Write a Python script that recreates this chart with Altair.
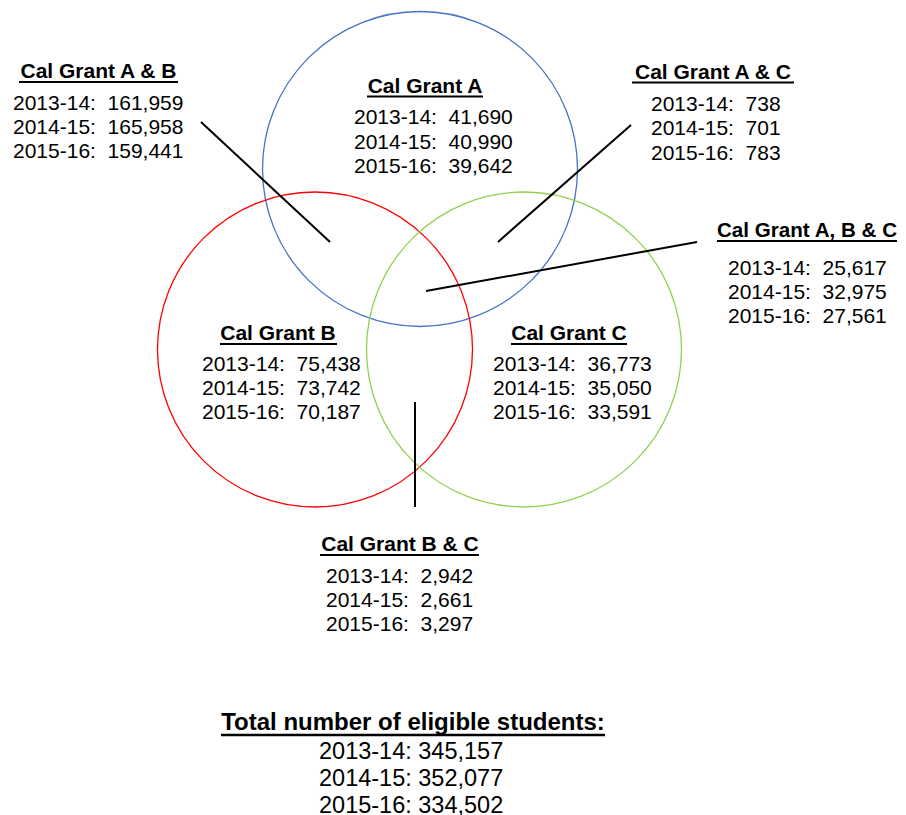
import altair as alt
import pandas as pd

# ---------------- data ----------------
years = ["2013-14", "2014-15", "2015-16"]

groups = ["Cal Grant A & B", "Cal Grant A", "Cal Grant A & C", "Cal Grant A, B & C",
          "Cal Grant B", "Cal Grant C", "Cal Grant B & C"]
counts = {
    "Cal Grant A & B":    ["161,959", "165,958", "159,441"],
    "Cal Grant A":        ["41,690", "40,990", "39,642"],
    "Cal Grant A & C":    ["738", "701", "783"],
    "Cal Grant A, B & C": ["25,617", "32,975", "27,561"],
    "Cal Grant B":        ["75,438", "73,742", "70,187"],
    "Cal Grant C":        ["36,773", "35,050", "33,591"],
    "Cal Grant B & C":    ["2,942", "2,661", "3,297"],
}
total_title = "Total number of eligible students:"
totals = ["345,157", "352,077", "334,502"]

# ---------------- layout (page pixel coordinates) ----------------
W, H = 890, 807
# title centre x, title baseline, title font size, underline x1, x2, underline y, rows left x, row baselines
title_pos = {
    "Cal Grant A & B":    (98.5, 78, 21, 19, 178, 82, 13, [110, 134, 158]),
    "Cal Grant A":        (425, 92.5, 21, 367, 483, 96.5, 354, [124, 148.5, 173]),
    "Cal Grant A & C":    (713, 78.5, 21, 632, 794, 82.5, 651, [110.5, 135, 159.5]),
    "Cal Grant A, B & C": (807, 237, 20.6, 717, 897, 241, 728, [275, 299, 323]),
    "Cal Grant B":        (278, 340, 21, 220, 337, 344, 202, [371, 395, 419]),
    "Cal Grant C":        (569, 340, 21, 511, 627, 344, 493, [371, 395, 419]),
    "Cal Grant B & C":    (400, 551, 21, 320, 479, 555, 326, [583, 607, 631]),
}
total_pos = (413, 730, 24, 221, 605, 735, 319, [759, 786, 813])

circles = pd.DataFrame({
    "name": ["A", "B", "C"],
    "cx": [420, 315, 524],
    "cy": [169, 349.5, 349.5],
    "col": ["#4472C4", "#FF0000", "#92D050"],
})

leaders = pd.DataFrame({
    "x1": [201, 631, 426, 415],
    "y1": [122, 125, 291, 402],
    "x2": [330, 498, 697, 415],
    "y2": [242, 242, 242, 507],
})

title_rows, under_rows, data_rows = [], [], []
for g in groups:
    cx, by, fs, ux1, ux2, uy, lx, rows = title_pos[g]
    title_rows.append({"t": g, "x": cx, "y": by, "fs": fs})
    under_rows.append({"x1": ux1, "x2": ux2, "y": uy, "w": 2})
    for yr, v, ry in zip(years, counts[g], rows):
        data_rows.append({"t": f"{yr}:\u00a0\u00a0{v}", "x": lx, "y": ry, "fs": 21})

cx, by, fs, ux1, ux2, uy, lx, rows = total_pos
title_rows.append({"t": total_title, "x": cx, "y": by, "fs": fs})
under_rows.append({"x1": ux1, "x2": ux2, "y": uy, "w": 2.5})
for yr, v, ry in zip(years, totals, rows):
    data_rows.append({"t": f"{yr}: {v}", "x": lx, "y": ry, "fs": 23.5})

titles = pd.DataFrame(title_rows)
unders = pd.DataFrame(under_rows)
datas = pd.DataFrame(data_rows)

xs = alt.Scale(domain=[8, 8 + W], range=[0, W], nice=False, zero=False)
ys = alt.Scale(domain=[8, 8 + H], range=[0, H], nice=False, zero=False)
FONT = "Liberation Sans"

circ = alt.Chart(circles).mark_point(
    shape="circle", filled=False, size=315 * 315, strokeWidth=1.3, opacity=1
).encode(
    x=alt.X("cx:Q", scale=xs, axis=None),
    y=alt.Y("cy:Q", scale=ys, axis=None),
    color=alt.Color("col:N", scale=None, legend=None),
)

lines = alt.Chart(leaders).mark_rule(color="black", strokeWidth=2).encode(
    x=alt.X("x1:Q", scale=xs, axis=None),
    y=alt.Y("y1:Q", scale=ys, axis=None),
    x2="x2:Q",
    y2="y2:Q",
)

ul = alt.Chart(unders).mark_rule(color="black").encode(
    x=alt.X("x1:Q", scale=xs, axis=None),
    x2="x2:Q",
    y=alt.Y("y:Q", scale=ys, axis=None),
    strokeWidth=alt.StrokeWidth("w:Q", scale=None, legend=None),
)

ttl = alt.Chart(titles).mark_text(
    font=FONT, fontWeight="bold", align="center", baseline="alphabetic", color="black"
).encode(
    x=alt.X("x:Q", scale=xs, axis=None),
    y=alt.Y("y:Q", scale=ys, axis=None),
    text="t:N",
    size=alt.Size("fs:Q", scale=None, legend=None),
)

rows_txt = alt.Chart(datas).mark_text(
    font=FONT, align="left", baseline="alphabetic", color="black"
).encode(
    x=alt.X("x:Q", scale=xs, axis=None),
    y=alt.Y("y:Q", scale=ys, axis=None),
    text="t:N",
    size=alt.Size("fs:Q", scale=None, legend=None),
)

chart = alt.layer(circ, lines, ul, ttl, rows_txt).properties(
    width=W, height=H, padding=0,
    autosize=alt.AutoSizeParams(type="none"),
    background="white",
).configure_view(stroke=None)

chart.save("out.html", embed_options={"renderer": "svg", "actions": False})
